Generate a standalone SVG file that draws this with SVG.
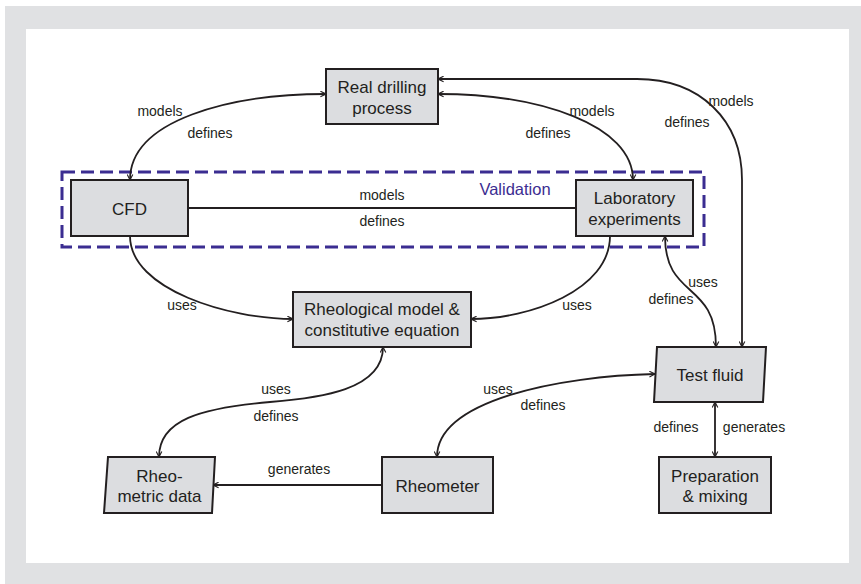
<svg xmlns="http://www.w3.org/2000/svg" width="861" height="584" viewBox="0 0 861 584">
<defs>
<marker id="ah" viewBox="0 0 10 10" refX="9" refY="5" markerWidth="7" markerHeight="7" orient="auto-start-reverse" markerUnits="userSpaceOnUse">
<path d="M1,1 L9,5 L1,9" fill="none" stroke="#231f20" stroke-width="1.6"/>
</marker>
<style>
.box{fill:#dcdde0;stroke:#231f20;stroke-width:2}
.nt{font-family:"Liberation Sans",Arial,sans-serif;font-size:17px;fill:#231f20;text-anchor:middle}
.lb{font-family:"Liberation Sans",Arial,sans-serif;font-size:14px;fill:#231f20;text-anchor:middle}
.c{fill:none;stroke:#231f20;stroke-width:1.8}
</style>
</defs>
<rect x="0" y="0" width="861" height="584" fill="#ffffff"/>
<rect x="5" y="6" width="856" height="578" fill="#e0e1e3"/>
<rect x="26" y="29" width="823" height="534" fill="#ffffff"/>

<g id="validation">
<rect x="62" y="172" width="642" height="75" fill="none" stroke="#3b2d91" stroke-width="3" stroke-dasharray="13,6"/>
<text x="515" y="195" font-family="Liberation Sans, Arial, sans-serif" font-size="16.5" fill="#3b2d91" text-anchor="middle">Validation</text>
</g>

<g id="connectors">
<path class="c" d="M130,180 C130,120 230,94 326,94" marker-start="url(#ah)" marker-end="url(#ah)"/>
<path class="c" d="M633,180 C633,125 540,94 438,94" marker-start="url(#ah)" marker-end="url(#ah)"/>
<path class="c" d="M742,347 L742,180 C742,120 700,79 637,79 L438,79" marker-start="url(#ah)" marker-end="url(#ah)"/>
<path class="c" d="M188,208 L576,208"/>
<path class="c" d="M130,236 C130,290 230,319 293,319" marker-end="url(#ah)"/>
<path class="c" d="M610,236 C610,290 530,319 471,319" marker-end="url(#ah)"/>
<path class="c" d="M665,236 C665,300 716,280 716,347" marker-start="url(#ah)" marker-end="url(#ah)"/>
<path class="c" d="M383,347 C383,390 320,398 270,402 C200,408 159,420 159,457" marker-start="url(#ah)" marker-end="url(#ah)"/>
<path class="c" d="M382,485 L213,485" marker-end="url(#ah)"/>
<path class="c" d="M655,374 C560,376 437,400 437,457" marker-start="url(#ah)" marker-end="url(#ah)"/>
<path class="c" d="M715,402 L715,457" marker-start="url(#ah)" marker-end="url(#ah)"/>
<text class="lb" x="160" y="116">models</text>
<text class="lb" x="210" y="138">defines</text>
<text class="lb" x="592" y="116">models</text>
<text class="lb" x="548" y="138">defines</text>
<text class="lb" x="731" y="106">models</text>
<text class="lb" x="687" y="127">defines</text>
<text class="lb" x="382" y="200">models</text>
<text class="lb" x="382" y="226">defines</text>
<text class="lb" x="182" y="310">uses</text>
<text class="lb" x="577" y="310">uses</text>
<text class="lb" x="703" y="287">uses</text>
<text class="lb" x="671" y="304">defines</text>
<text class="lb" x="276" y="394">uses</text>
<text class="lb" x="276" y="421">defines</text>
<text class="lb" x="299" y="474">generates</text>
<text class="lb" x="498" y="394">uses</text>
<text class="lb" x="543" y="410">defines</text>
<text class="lb" x="676" y="432">defines</text>
<text class="lb" x="754" y="432">generates</text>
</g>

<g id="real-drilling">
<rect class="box" x="326" y="69" width="112" height="55"/>
<text class="nt" x="382" y="93">Real drilling</text>
<text class="nt" x="382" y="114">process</text>
</g>
<g id="cfd">
<rect class="box" x="71" y="180" width="117" height="56"/>
<text class="nt" x="129.5" y="215">CFD</text>
</g>
<g id="lab">
<rect class="box" x="576" y="180" width="117" height="56"/>
<text class="nt" x="634.5" y="204">Laboratory</text>
<text class="nt" x="634.5" y="225">experiments</text>
</g>
<g id="rheological-model">
<rect class="box" x="293" y="292" width="178" height="55"/>
<text class="nt" x="382" y="315">Rheological model &amp;</text>
<text class="nt" x="382" y="336">constitutive equation</text>
</g>
<g id="rheometric-data">
<polygon class="box" points="108,457 215,457 212,513 104,513"/>
<text class="nt" x="159.5" y="482">Rheo-</text>
<text class="nt" x="159.5" y="502">metric data</text>
</g>
<g id="rheometer">
<rect class="box" x="382" y="457" width="111" height="56"/>
<text class="nt" x="437.5" y="492">Rheometer</text>
</g>
<g id="test-fluid">
<polygon class="box" points="657,347 766,347 763,402 654,402"/>
<text class="nt" x="710" y="381">Test fluid</text>
</g>
<g id="preparation">
<rect class="box" x="659" y="457" width="112" height="56"/>
<text class="nt" x="715" y="482">Preparation</text>
<text class="nt" x="715" y="502">&amp; mixing</text>
</g>
</svg>
